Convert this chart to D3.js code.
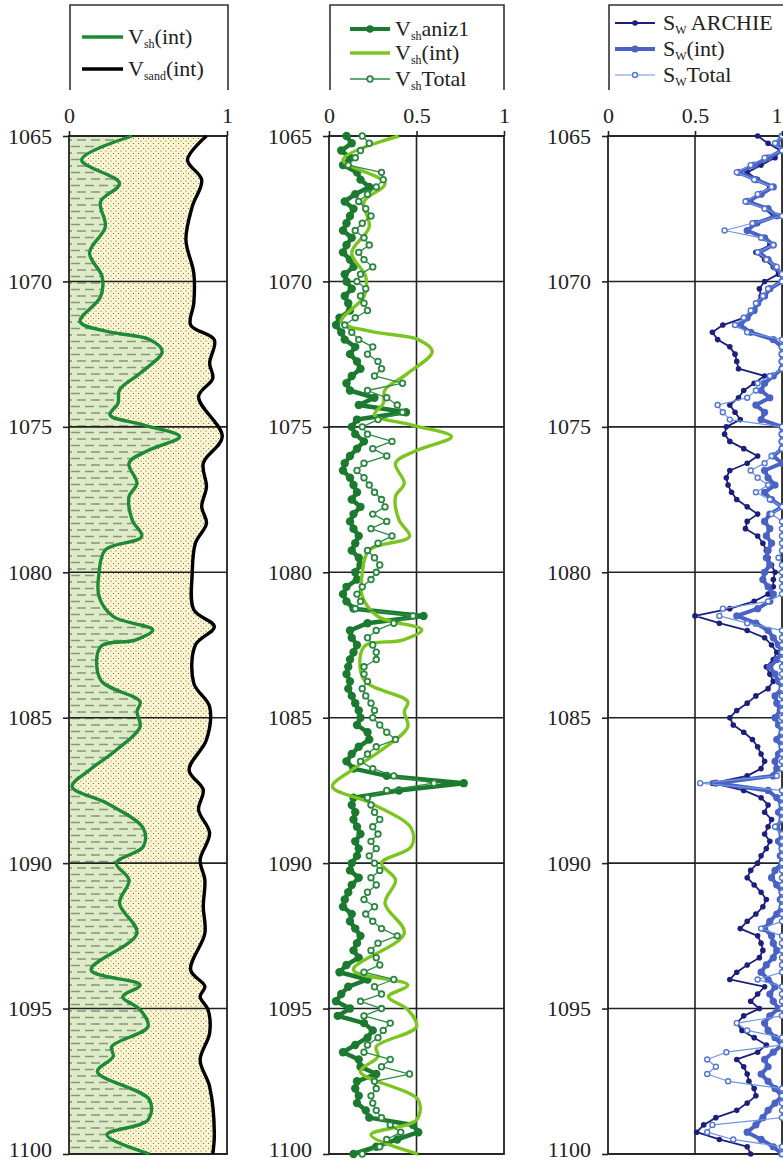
<!DOCTYPE html>
<html>
<head>
<meta charset="utf-8">
<script src="https://cdn.jsdelivr.net/npm/d3@7"></script>
<style>
  body { margin: 0; background: #fff; }
  svg { display: block; font-family: "Liberation Serif", "DejaVu Serif", serif; }
</style>
</head>
<body>
<div id="chart"></div>
<script>
// depth axis
const depthDomain = [1065, 1100];
const depthTicks = [1065, 1070, 1075, 1080, 1085, 1090, 1095, 1100];

// track 1: interpreted shale / sand (smooth curves)
const vshIntDepth = [1065.00, 1065.82, 1066.63, 1067.26, 1068.12, 1069.02, 1069.84, 1070.52, 1071.38, 1071.72,
  1072.00, 1072.41, 1073.16, 1073.73, 1074.19, 1074.59, 1074.93, 1075.34, 1075.79, 1076.25,
  1076.94, 1077.40, 1078.20, 1078.77, 1079.23, 1080.03, 1080.83, 1081.52, 1081.98, 1082.33,
  1082.56, 1083.70, 1084.45, 1084.79, 1085.31, 1086.11, 1086.80, 1087.37, 1087.94, 1088.80,
  1089.43, 1090.00, 1090.58, 1091.38, 1092.41, 1093.67, 1094.19, 1094.59, 1095.04, 1095.62,
  1096.31, 1096.65, 1097.17, 1098.14, 1098.83, 1099.34, 1100.00];
const vshIntValue = [0.40, 0.08, 0.32, 0.20, 0.23, 0.13, 0.21, 0.20, 0.07, 0.24,
  0.51, 0.59, 0.45, 0.32, 0.31, 0.26, 0.47, 0.70, 0.51, 0.38,
  0.43, 0.38, 0.40, 0.46, 0.23, 0.19, 0.19, 0.28, 0.53, 0.42,
  0.20, 0.20, 0.45, 0.43, 0.45, 0.30, 0.13, 0.02, 0.24, 0.47,
  0.47, 0.30, 0.38, 0.32, 0.43, 0.14, 0.45, 0.34, 0.45, 0.50,
  0.27, 0.28, 0.18, 0.51, 0.50, 0.24, 0.51];

const vsandDepth = [1065.00, 1065.82, 1066.51, 1067.43, 1068.57, 1069.72, 1070.75, 1071.50, 1072.01, 1072.81,
  1073.33, 1073.96, 1075.34, 1076.25, 1077.06, 1077.74, 1078.32, 1079.00, 1080.03, 1081.29,
  1081.87, 1082.50, 1083.82, 1084.62, 1085.76, 1086.80, 1087.48, 1088.17, 1088.97, 1089.89,
  1090.58, 1091.49, 1092.41, 1093.67, 1094.24, 1094.59, 1095.04, 1095.85, 1096.77, 1097.68,
  1099.29, 1100.00];
const vsandValue = [0.87, 0.75, 0.84, 0.78, 0.74, 0.79, 0.79, 0.77, 0.92, 0.89,
  0.91, 0.82, 0.97, 0.85, 0.87, 0.84, 0.87, 0.80, 0.78, 0.79,
  0.92, 0.80, 0.79, 0.89, 0.87, 0.76, 0.85, 0.82, 0.89, 0.83,
  0.86, 0.85, 0.86, 0.77, 0.86, 0.83, 0.88, 0.89, 0.83, 0.89,
  0.92, 0.91];

// logged series, one sample every 0.25 m from 1065 to 1100
const logStep = 0.25;
const logDepth = d3.range(depthDomain[0], depthDomain[1] + 0.001, logStep);

const vshAniz1 = [
  0.10, 0.13, 0.07, 0.12, 0.08, 0.16, 0.18, 0.23, 0.15, 0.09, 0.14, 0.12,
  0.10, 0.08, 0.13, 0.10, 0.08, 0.12, 0.14, 0.09, 0.10, 0.13, 0.09, 0.11,
  0.12, 0.06, 0.04, 0.07, 0.09, 0.15, 0.12, 0.16, 0.18, 0.13, 0.10, 0.12,
  0.26, 0.17, 0.44, 0.16, 0.13, 0.15, 0.20, 0.16, 0.12, 0.09, 0.08, 0.12,
  0.14, 0.16, 0.13, 0.18, 0.14, 0.12, 0.14, 0.17, 0.15, 0.13, 0.17, 0.18,
  0.15, 0.16, 0.10, 0.08, 0.10, 0.14, 0.54, 0.22, 0.12, 0.13, 0.16, 0.14,
  0.12, 0.11, 0.10, 0.12, 0.11, 0.13, 0.15, 0.17, 0.18, 0.16, 0.22, 0.23,
  0.17, 0.13, 0.10, 0.14, 0.33, 0.77, 0.40, 0.14, 0.13, 0.15, 0.14, 0.16,
  0.18, 0.15, 0.17, 0.16, 0.13, 0.12, 0.17, 0.13, 0.11, 0.09, 0.08, 0.13,
  0.12, 0.15, 0.18, 0.16, 0.14, 0.17, 0.10, 0.06, 0.22, 0.11, 0.07, 0.04,
  0.12, 0.05, 0.20, 0.25, 0.22, 0.15, 0.08, 0.17, 0.18, 0.27, 0.16, 0.15,
  0.17, 0.16, 0.21, 0.23, 0.48, 0.51, 0.39, 0.27, 0.14];

const vshTotal = [
  0.19, 0.23, 0.18, 0.15, 0.11, 0.30, 0.31, 0.27, 0.22, 0.17, 0.21, 0.24,
  0.19, 0.15, 0.20, 0.23, 0.17, 0.20, 0.25, 0.18, 0.16, 0.21, 0.18, 0.20,
  0.22, 0.15, 0.09, 0.13, 0.17, 0.25, 0.22, 0.28, 0.30, 0.26, 0.42, 0.22,
  0.33, 0.39, 0.42, 0.28, 0.19, 0.22, 0.36, 0.25, 0.33, 0.20, 0.16, 0.20,
  0.23, 0.26, 0.30, 0.32, 0.25, 0.33, 0.24, 0.36, 0.28, 0.22, 0.26, 0.29,
  0.27, 0.24, 0.19, 0.16, 0.18, 0.15, 0.48, 0.37, 0.27, 0.22, 0.25, 0.27,
  0.27, 0.20, 0.20, 0.22, 0.19, 0.21, 0.24, 0.26, 0.25, 0.29, 0.33, 0.38,
  0.27, 0.22, 0.18, 0.25, 0.37, 0.60, 0.33, 0.22, 0.24, 0.26, 0.29, 0.25,
  0.28, 0.24, 0.27, 0.23, 0.26, 0.29, 0.24, 0.27, 0.22, 0.20, 0.26, 0.21,
  0.25, 0.30, 0.39, 0.28, 0.24, 0.27, 0.29, 0.20, 0.37, 0.26, 0.30, 0.18,
  0.30, 0.20, 0.35, 0.31, 0.28, 0.22, 0.20, 0.35, 0.30, 0.46, 0.26, 0.27,
  0.24, 0.25, 0.27, 0.30, 0.35, 0.41, 0.33, 0.29, 0.19];

const swArchie = [
  0.86, 0.92, 0.99, 0.96, 0.88, 0.80, 0.86, 0.93, 0.87, 0.82, 0.90, 0.95,
  0.86, 0.80, 0.90, 0.93, 0.85, 0.90, 0.95, 0.98, 0.90, 0.87, 0.88, 0.85,
  0.83, 0.78, 0.66, 0.60, 0.63, 0.70, 0.73, 0.74, 0.75, 0.90, 0.84, 0.78,
  0.75, 0.70, 0.73, 0.76, 0.68, 0.67, 0.70, 0.78, 0.86, 0.80, 0.70, 0.68,
  0.69, 0.71, 0.74, 0.80, 0.86, 0.80, 0.79, 0.86, 0.89, 0.91, 0.92, 0.94,
  0.96, 0.95, 0.95, 0.92, 0.84, 0.70, 0.50, 0.64, 0.80, 0.90, 0.94, 0.97,
  0.95, 0.91, 0.93, 0.95, 0.92, 0.85, 0.80, 0.74, 0.70, 0.72, 0.78, 0.83,
  0.86, 0.88, 0.90, 0.88, 0.80, 0.60, 0.78, 0.88, 0.92, 0.90, 0.94, 0.92,
  0.90, 0.93, 0.91, 0.88, 0.86, 0.82, 0.80, 0.84, 0.88, 0.91, 0.89, 0.85,
  0.80, 0.76, 0.86, 0.88, 0.89, 0.87, 0.80, 0.74, 0.70, 0.90, 0.86, 0.82,
  0.87, 0.78, 0.74, 0.77, 0.84, 0.91, 0.86, 0.74, 0.78, 0.80, 0.81, 0.84,
  0.85, 0.80, 0.74, 0.62, 0.55, 0.51, 0.64, 0.80, 0.82];

const swInt = [
  1.00, 0.97, 1.00, 0.92, 0.84, 0.75, 0.85, 0.95, 0.88, 0.80, 0.92, 0.97,
  0.85, 0.80, 0.90, 0.95, 0.87, 0.92, 0.96, 1.00, 1.00, 0.93, 0.90, 0.86,
  0.84, 0.80, 0.76, 0.82, 0.95, 1.00, 1.00, 1.00, 1.00, 0.95, 0.90, 0.88,
  0.93, 0.85, 0.90, 0.88, 1.00, 1.00, 1.00, 1.00, 0.95, 1.00, 0.90, 0.92,
  0.96, 0.90, 0.94, 1.00, 0.93, 0.90, 0.93, 0.91, 0.94, 0.92, 0.91, 0.93,
  0.90, 0.89, 0.92, 0.95, 0.93, 0.86, 0.74, 0.85, 0.92, 0.95, 0.98, 1.00,
  0.97, 0.93, 0.96, 0.98, 1.00, 0.96, 0.97, 0.99, 0.96, 0.98, 1.00, 0.97,
  1.00, 0.98, 0.96, 0.97, 0.95, 0.62, 0.92, 0.97, 1.00, 0.98, 1.00, 0.97,
  1.00, 0.98, 1.00, 0.99, 1.00, 0.96, 0.94, 0.97, 1.00, 0.99, 1.00, 0.97,
  0.93, 0.90, 0.94, 0.95, 0.97, 0.95, 0.91, 0.88, 0.92, 0.96, 0.93, 0.95,
  0.98, 0.93, 0.90, 0.92, 0.96, 1.00, 0.95, 0.90, 0.92, 0.88, 0.92, 0.96,
  1.00, 0.96, 0.92, 0.89, 0.85, 0.80, 0.88, 0.95, 1.00];

const swTotal = [
  1.00, 0.96, 1.00, 0.90, 0.82, 0.74, 0.84, 0.94, 0.86, 0.79, 0.90, 1.00,
  0.83, 0.67, 0.88, 0.95, 0.86, 0.91, 0.97, 1.00, 1.00, 0.92, 0.89, 0.85,
  0.82, 0.78, 0.73, 0.80, 1.00, 1.00, 1.00, 1.00, 1.00, 0.93, 0.86, 0.85,
  0.80, 0.63, 0.66, 0.70, 1.00, 1.00, 1.00, 1.00, 0.94, 0.90, 0.82, 0.86,
  0.92, 0.85, 0.93, 1.00, 0.94, 1.00, 1.00, 1.00, 1.00, 1.00, 0.98, 1.00,
  1.00, 1.00, 1.00, 1.00, 0.92, 0.66, 0.64, 0.80, 1.00, 1.00, 1.00, 1.00,
  1.00, 1.00, 1.00, 1.00, 1.00, 1.00, 1.00, 1.00, 1.00, 1.00, 1.00, 1.00,
  1.00, 1.00, 1.00, 1.00, 0.97, 0.53, 1.00, 1.00, 1.00, 1.00, 1.00, 0.96,
  1.00, 1.00, 1.00, 1.00, 1.00, 1.00, 1.00, 1.00, 1.00, 1.00, 1.00, 1.00,
  1.00, 0.88, 1.00, 1.00, 1.00, 1.00, 1.00, 1.00, 0.86, 1.00, 1.00, 1.00,
  1.00, 1.00, 0.74, 0.80, 1.00, 1.00, 0.68, 0.57, 0.62, 0.57, 0.69, 1.00,
  1.00, 1.00, 1.00, 1.00, 0.60, 0.57, 0.72, 1.00, 1.00];

// layout
const width = 783, height = 1164;
const plotTop = 136, plotBottom = 1154;
const legendTop = 5, legendBottom = 90;
const fontSize = 22;
const serif = '"Liberation Serif", "DejaVu Serif", serif';

const svg = d3.select("#chart").append("svg")
  .attr("width", width)
  .attr("height", height)
  .attr("font-family", serif);

const y = d3.scaleLinear().domain(depthDomain).range([plotTop, plotBottom]);

// fill patterns for track 1
const defs = svg.append("defs");
const shalePat = defs.append("pattern")
  .attr("id", "shale").attr("patternUnits", "userSpaceOnUse")
  .attr("width", 14).attr("height", 13);
shalePat.append("rect").attr("width", 14).attr("height", 13).attr("fill", "#deebc8");
shalePat.append("path")
  .attr("d", "M1,3.5H10M7,10H14M0,10H2")
  .attr("stroke", "#879876").attr("stroke-width", 1.4);

const sandPat = defs.append("pattern")
  .attr("id", "sand").attr("patternUnits", "userSpaceOnUse")
  .attr("width", 5).attr("height", 5);
sandPat.append("rect").attr("width", 5).attr("height", 5).attr("fill", "#fdf6d0");
sandPat.append("circle").attr("cx", 1).attr("cy", 1).attr("r", 0.6).attr("fill", "#5f5c48");
sandPat.append("circle").attr("cx", 3.5).attr("cy", 3.5).attr("r", 0.6).attr("fill", "#5f5c48");

function makeTrack(x0, x1, topTicks) {
  const x = d3.scaleLinear().domain([0, 1]).range([x0, x1]);
  const g = svg.append("g");
  return { x, g, x0, x1, topTicks };
}

function drawFrame(track, gridX) {
  const { x, g } = track;

  // horizontal grid every 5 m
  g.append("g").selectAll("line")
    .data(depthTicks)
    .join("line")
    .attr("x1", track.x0).attr("x2", track.x1)
    .attr("y1", d => y(d)).attr("y2", d => y(d))
    .attr("stroke", "#222").attr("stroke-width", 1.6);

  g.append("g").selectAll("line")
    .data(gridX)
    .join("line")
    .attr("x1", d => x(d)).attr("x2", d => x(d))
    .attr("y1", plotTop).attr("y2", plotBottom)
    .attr("stroke", "#222").attr("stroke-width", 1.6);

  g.append("rect")
    .attr("x", track.x0).attr("y", plotTop)
    .attr("width", track.x1 - track.x0).attr("height", plotBottom - plotTop)
    .attr("fill", "none").attr("stroke", "#222").attr("stroke-width", 1.8);
}

function drawAxes(track) {
  const { x, g } = track;

  const left = g.append("g")
    .attr("transform", `translate(${track.x0},0)`)
    .call(d3.axisLeft(y).tickValues(depthTicks).tickFormat(d3.format("d")).tickSize(6).tickPadding(11));
  left.select(".domain").remove();
  // last label sits on the bottom edge; lift it a little so it stays inside
  left.selectAll(".tick text").filter(d => d === depthDomain[1]).attr("dy", "0.1em");

  const top = g.append("g")
    .attr("transform", `translate(0,${plotTop})`)
    .call(d3.axisTop(x).tickValues(track.topTicks).tickFormat(d => String(d)).tickSize(5).tickPadding(8));
  top.select(".domain").remove();
  // keep a label that would run past the right page edge inside it
  top.selectAll(".tick text")
    .filter(d => x(d) + 6 > width)
    .attr("text-anchor", "end")
    .attr("x", d => width - x(d) - 1);

  g.selectAll(".tick line").attr("stroke", "#222").attr("stroke-width", 1.6);
  g.selectAll(".tick text")
    .attr("fill", "#222")
    .attr("font-family", serif)
    .style("font-family", serif)
    .style("font-size", fontSize + "px");
  left.attr("font-family", serif);
  top.attr("font-family", serif);
}

function drawLegend(track, right, entries, rowY, lineX0, lineX1, textX) {
  const { g } = track;
  g.append("path")
    .attr("d", `M${track.x0 + 1},${legendBottom}V${legendTop}H${right}V${legendBottom}`)
    .attr("fill", "none").attr("stroke", "#333").attr("stroke-width", 1.6);

  entries.forEach((e, i) => {
    const yy = rowY[i];
    g.append("line")
      .attr("x1", lineX0).attr("x2", lineX1).attr("y1", yy).attr("y2", yy)
      .attr("stroke", e.color).attr("stroke-width", e.width);
    if (e.marker) {
      g.append("circle")
        .attr("cx", (lineX0 + lineX1) / 2).attr("cy", yy).attr("r", e.marker.r)
        .attr("fill", e.marker.fill).attr("stroke", e.marker.stroke || "none")
        .attr("stroke-width", e.marker.sw || 0);
    }
    const t = g.append("text")
      .attr("x", textX).attr("y", yy + 7)
      .attr("fill", "#222")
      .attr("font-family", serif)
      .style("font-size", fontSize + "px");
    t.append("tspan").text(e.main);
    t.append("tspan").attr("dy", 4).style("font-size", "12px").text(e.sub);
    t.append("tspan").attr("dy", -4).text(e.rest);
  });
}

function drawLog(track, values, style) {
  const { x, g } = track;
  const pts = logDepth.map((d, i) => [d, values[i]]);
  const line = d3.line().x(p => x(p[1])).y(p => y(p[0]));
  g.append("path")
    .datum(pts)
    .attr("d", line)
    .attr("fill", "none")
    .attr("stroke", style.color)
    .attr("stroke-width", style.width)
    .attr("stroke-linejoin", "round");
  g.append("g").selectAll("circle")
    .data(pts)
    .join("circle")
    .attr("cx", p => x(p[1])).attr("cy", p => y(p[0]))
    .attr("r", style.r)
    .attr("fill", style.fill)
    .attr("stroke", style.stroke || "none")
    .attr("stroke-width", style.sw || 0);
}

const smooth = d3.curveCatmullRom.alpha(0.5);

// ---------- Track 1 ----------
const t1 = makeTrack(69, 227, [0, 1]);
{
  const { x, g } = t1;
  const sandPts = vsandDepth.map((d, i) => [d, vsandValue[i]]);
  const shPts = vshIntDepth.map((d, i) => [d, vshIntValue[i]]);
  const area = d3.area().curve(smooth).y(p => y(p[0])).x0(x(0)).x1(p => x(p[1]));

  g.append("path").datum(sandPts).attr("d", area).attr("fill", "url(#sand)");
  g.append("path").datum(shPts).attr("d", area).attr("fill", "url(#shale)");

  drawFrame(t1, []);

  const line = d3.line().curve(smooth).x(p => x(p[1])).y(p => y(p[0]));
  g.append("path").datum(shPts).attr("d", line)
    .attr("fill", "none").attr("stroke", "#1f8a36").attr("stroke-width", 3.4);
  g.append("path").datum(sandPts).attr("d", line)
    .attr("fill", "none").attr("stroke", "#000").attr("stroke-width", 3.4);

  drawAxes(t1);
  drawLegend(t1, 228, [
    { main: "V", sub: "sh", rest: "(int)", color: "#1f8a36", width: 3.4 },
    { main: "V", sub: "sand", rest: "(int)", color: "#000", width: 3.4 }
  ], [37, 69], 82, 123, 128);
}

// ---------- Track 2 ----------
const t2 = makeTrack(329, 504, [0, 0.5, 1]);
{
  const { x, g } = t2;
  drawFrame(t2, [0.5]);

  drawLog(t2, vshAniz1, { color: "#1b7a30", width: 4.5, r: 4.2, fill: "#1b7a30" });

  const shPts = vshIntDepth.map((d, i) => [d, vshIntValue[i]]);
  const line = d3.line().curve(smooth).x(p => x(p[1])).y(p => y(p[0]));
  g.append("path").datum(shPts).attr("d", line)
    .attr("fill", "none").attr("stroke", "#7cc521").attr("stroke-width", 3.4);

  drawLog(t2, vshTotal, { color: "#2f8c45", width: 1.3, r: 2.8, fill: "#fff", stroke: "#2a8640", sw: 1.8 });

  drawAxes(t2);
  drawLegend(t2, 504, [
    { main: "V", sub: "sh", rest: "aniz1", color: "#1b7a30", width: 3.8, marker: { r: 3.8, fill: "#1b7a30" } },
    { main: "V", sub: "sh", rest: "(int)", color: "#7cc521", width: 3.4 },
    { main: "V", sub: "sh", rest: "Total", color: "#2f8c45", width: 1.3, marker: { r: 2.8, fill: "#fff", stroke: "#2a8640", sw: 1.8 } }
  ], [29, 53, 79], 350, 390, 395);
}

// ---------- Track 3 ----------
const t3 = makeTrack(608, 782, [0, 0.5, 1]);
{
  drawFrame(t3, [0.5]);

  drawLog(t3, swArchie, { color: "#1d1f7c", width: 1.8, r: 2.8, fill: "#1d1f7c" });
  drawLog(t3, swInt, { color: "#4a62c4", width: 4, r: 3.6, fill: "#4a62c4" });
  drawLog(t3, swTotal, { color: "#6f95e2", width: 1.2, r: 2.5, fill: "#fff", stroke: "#5577d2", sw: 1.4 });

  drawAxes(t3);
  drawLegend(t3, 800, [
    { main: "S", sub: "W", rest: " ARCHIE", color: "#1d1f7c", width: 1.8, marker: { r: 2.8, fill: "#1d1f7c" } },
    { main: "S", sub: "W", rest: "(int)", color: "#4a62c4", width: 4, marker: { r: 3.6, fill: "#4a62c4" } },
    { main: "S", sub: "W", rest: "Total", color: "#6f95e2", width: 1.2, marker: { r: 2.5, fill: "#fff", stroke: "#5577d2", sw: 1.4 } }
  ], [23, 49, 75], 615, 655, 663);
}
</script>
</body>
</html>
